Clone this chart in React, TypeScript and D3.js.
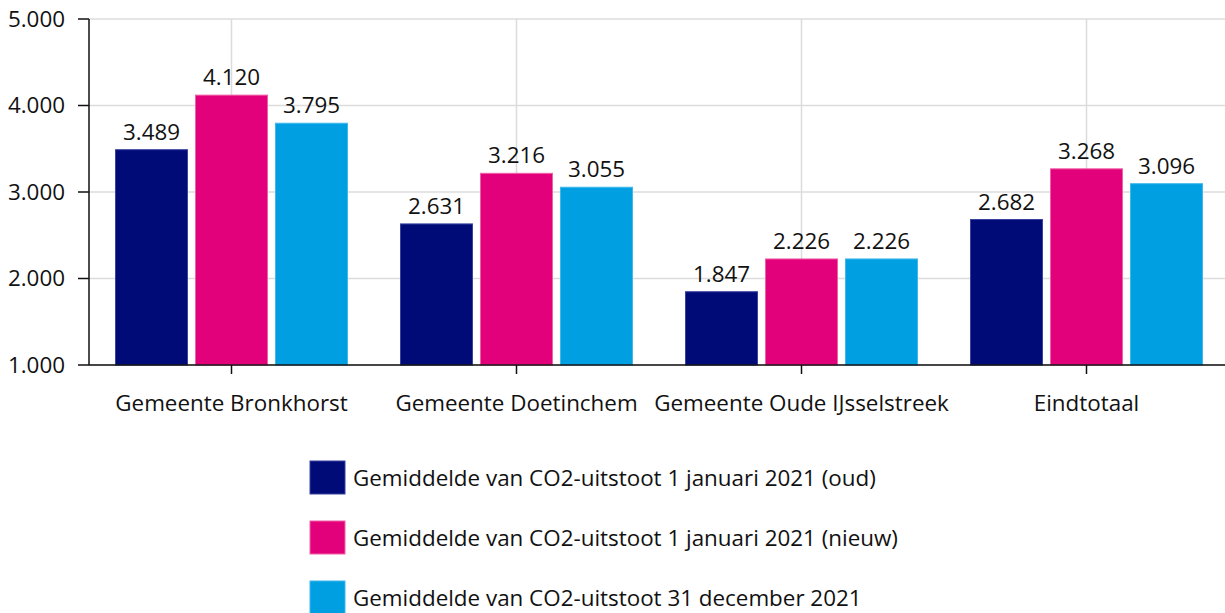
import { useEffect, useRef } from 'react';
import * as d3 from 'd3';

const categories = ['Gemeente Bronkhorst', 'Gemeente Doetinchem', 'Gemeente Oude IJsselstreek', 'Eindtotaal'];
const seriesNames = [
    'Gemiddelde van CO2-uitstoot 1 januari 2021 (oud)',
    'Gemiddelde van CO2-uitstoot 1 januari 2021 (nieuw)',
    'Gemiddelde van CO2-uitstoot 31 december 2021',
];
const oud = [3489, 2631, 1847, 2682];
const nieuw = [4120, 3216, 2226, 3268];
const december = [3795, 3055, 2226, 3096];
const yTicks = [1000, 2000, 3000, 4000, 5000];
const colors = ['#000b77', '#e3007b', '#009fe2'];
const strokes = ['#3a43a0', '#f060a8', '#40b8ec'];

export default function App() {
    const svgRef = useRef<SVGSVGElement>(null);
    const width = 1225;
    const height = 613;

    useEffect(() => {
        if (!svgRef.current) return;
        const svg = d3.select(svgRef.current);
        svg.selectAll('*').remove();

        const font = '"Open Sans", "Noto Sans", sans-serif';
        const fs = 22.4;
        const left = 89;
        const right = 1229;
        const top = 19;
        const bottom = 365;

        const nl = d3.formatLocale({ decimal: ',', thousands: '.', grouping: [3], currency: ['€', ''] });
        const fmt = nl.format(',d');

        const x = d3.scaleBand<string>().domain(categories).range([left, right]);
        const y = d3.scaleLinear().domain([1000, 5000]).range([bottom, top]);
        const barW = 72;
        const barStep = 80;

        // grid
        svg.append('g')
            .selectAll('line')
            .data(yTicks)
            .enter()
            .append('line')
            .attr('x1', left)
            .attr('x2', width)
            .attr('y1', (d) => y(d))
            .attr('y2', (d) => y(d))
            .attr('stroke', '#dcdcdc')
            .attr('stroke-width', 1.5);

        svg.append('g')
            .selectAll('line')
            .data(categories)
            .enter()
            .append('line')
            .attr('x1', (d) => x(d)! + x.bandwidth() / 2)
            .attr('x2', (d) => x(d)! + x.bandwidth() / 2)
            .attr('y1', top)
            .attr('y2', bottom)
            .attr('stroke', '#dcdcdc')
            .attr('stroke-width', 1.5);

        // bars
        const allSeries = [oud, nieuw, december];
        allSeries.forEach((values, si) => {
            const g = svg.append('g');
            values.forEach((v, ci) => {
                const cx = x(categories[ci])! + x.bandwidth() / 2;
                const bx = cx + (si - 1) * barStep - barW / 2;
                g.append('rect')
                    .attr('x', bx)
                    .attr('y', y(v))
                    .attr('width', barW)
                    .attr('height', bottom - y(v))
                    .attr('fill', colors[si])
                    .attr('stroke', strokes[si])
                    .attr('stroke-width', 1);
                g.append('text')
                    .attr('x', bx + barW / 2)
                    .attr('y', y(v) - 10)
                    .attr('text-anchor', 'middle')
                    .attr('font-family', font)
                    .attr('font-size', fs)
                    .attr('fill', '#111')
                    .text(fmt(v));
            });
        });

        // y axis
        svg.append('line')
            .attr('x1', left)
            .attr('x2', left)
            .attr('y1', top)
            .attr('y2', bottom)
            .attr('stroke', '#111')
            .attr('stroke-width', 1.5);
        const yAxis = svg.append('g');
        yTicks.forEach((t) => {
            yAxis.append('line')
                .attr('x1', 78)
                .attr('x2', left)
                .attr('y1', y(t))
                .attr('y2', y(t))
                .attr('stroke', '#111')
                .attr('stroke-width', 1.5);
            yAxis.append('text')
                .attr('x', 65)
                .attr('y', y(t))
                .attr('dy', '0.35em')
                .attr('text-anchor', 'end')
                .attr('font-family', font)
                .attr('font-size', fs)
                .attr('fill', '#111')
                .text(fmt(t));
        });

        // x axis
        svg.append('line')
            .attr('x1', left)
            .attr('x2', width)
            .attr('y1', bottom)
            .attr('y2', bottom)
            .attr('stroke', '#111')
            .attr('stroke-width', 1.5);
        const xAxis = svg.append('g');
        categories.forEach((c) => {
            const cx = x(c)! + x.bandwidth() / 2;
            xAxis.append('line')
                .attr('x1', cx)
                .attr('x2', cx)
                .attr('y1', bottom)
                .attr('y2', bottom + 9)
                .attr('stroke', '#111')
                .attr('stroke-width', 1.5);
            xAxis.append('text')
                .attr('x', cx)
                .attr('y', 411)
                .attr('text-anchor', 'middle')
                .attr('font-family', font)
                .attr('font-size', fs)
                .attr('fill', '#111')
                .text(c);
        });

        // legend
        const legend = svg.append('g').attr('transform', 'translate(310, 461)');
        seriesNames.forEach((name, i) => {
            const row = legend.append('g').attr('transform', `translate(0, ${i * 60})`);
            row.append('rect')
                .attr('width', 35)
                .attr('height', 33)
                .attr('fill', colors[i])
                .attr('stroke', strokes[i])
                .attr('stroke-width', 1);
            row.append('text')
                .attr('x', 43)
                .attr('y', 17)
                .attr('dy', '0.35em')
                .attr('font-family', font)
                .attr('font-size', fs)
                .attr('fill', '#111')
                .text(name);
        });
    }, []);

    return (
        <div style={{ position: 'absolute', left: 0, top: 0 }}>
            <svg ref={svgRef} width={width} height={height} style={{ display: 'block', background: '#fff' }} />
        </div>
    );
}
